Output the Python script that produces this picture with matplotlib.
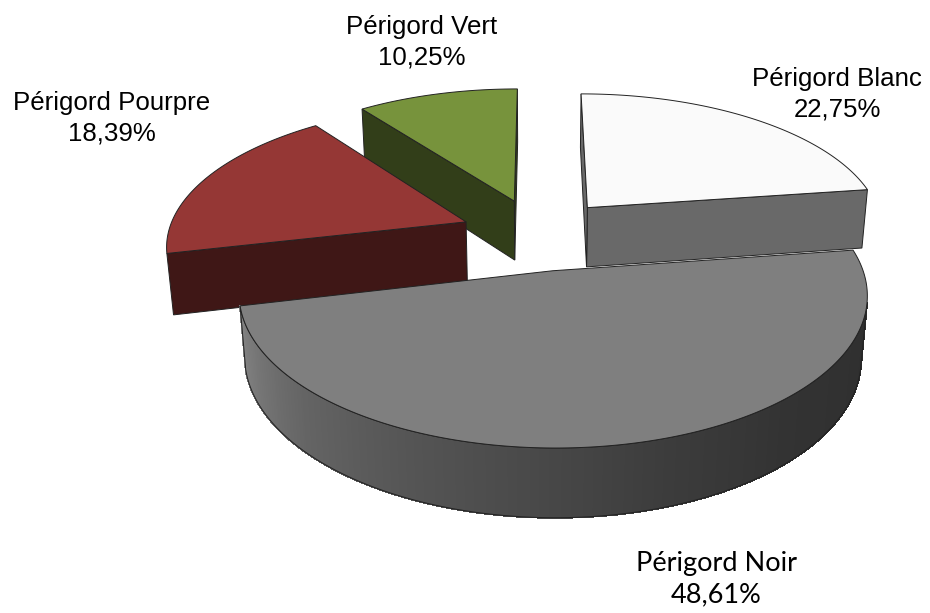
import numpy as np
import matplotlib
matplotlib.use('Agg')
from matplotlib import pyplot as plt
from matplotlib.patches import Polygon

names = ['Périgord Blanc', 'Périgord Noir', 'Périgord Pourpre', 'Périgord Vert']
values = [22.75, 48.61, 18.39, 10.25]
top_colors = ['#fafafa', '#7f7f7f', '#953735', '#77933c']

# label centres in pixels, and font per label (Noir label is in Calibri-like font)
label_pos = [(837, 94), (716, 579), (112, 118), (422, 42)]
label_font = ['Liberation Sans', 'Lato', 'Liberation Sans', 'Liberation Sans']
label_size = [18.6, 19.5, 18.6, 18.6]

# 3d view
elev = np.radians(27.3)
s, c = np.sin(elev), np.cos(elev)
fx, fy, D = 1760.0, 1778.0, 5.90
cx, cy = 538.0, 234.0
h = 0.23
explode = 0.26
cam = np.array([0.0, -D * c, D * s])

def proj(X, Y, Z):
    X = np.atleast_1d(np.asarray(X, float))
    Y = np.atleast_1d(np.asarray(Y, float))
    Z = np.atleast_1d(np.asarray(Z, float)) + 0 * X
    zc = D + Y * c - Z * s
    return np.column_stack([cx + fx * X / zc, cy - fy * (Y * s + Z * c) / zc])

def seen(normal, point):
    return np.dot(normal, cam - np.asarray(point)) > 0

def shade(col, k):
    rgb = np.array(matplotlib.colors.to_rgb(col)) * k
    return np.clip(rgb, 0, 1)

# side gradient of the big slice (angle in deg, brightness factor)
grad_ang = [-180, -167, -160, -136, -114, -90, -71, -48, 0, 20]
grad_fac = [1.08, 1.08, 0.99, 0.79, 0.67, 0.56, 0.47, 0.40, 0.36, 0.36]
gradient_side = [False, True, False, False]
side_k = 0.42
edge = '#222222'
lw = 0.7

fig = plt.figure(figsize=(9.3, 6.13), dpi=100)
ax = fig.add_axes([0, 0, 1, 1])
ax.set_xlim(0, 930)
ax.set_ylim(613, 0)
ax.axis('off')

fr = np.array(values) / sum(values)
th1 = 90 - 360 * np.cumsum(fr)      # clockwise from 12 o'clock
th2 = th1 + 360 * fr
mid = np.radians((th1 + th2) / 2)
ox = explode * np.cos(mid)
oy = explode * np.sin(mid)

for i in np.argsort(-oy):
    col = top_colors[i]
    n = int(abs(th2[i] - th1[i]) * 2) + 2
    th = np.radians(np.linspace(th1[i], th2[i], n))
    px, py = ox[i] + np.cos(th), oy[i] + np.sin(th)
    top = proj(px, py, 0)
    bot = proj(px, py, -h)
    a_top = proj(ox[i], oy[i], 0)[0]
    a_bot = proj(ox[i], oy[i], -h)[0]
    centre = [ox[i], oy[i], -h / 2]

    # cut faces
    t1, t2 = th[0], th[-1]
    faces = [((np.sin(t1), -np.cos(t1), 0), 0), ((-np.sin(t2), np.cos(t2), 0), -1)]
    for nrm, j in faces:
        if seen(nrm, centre):
            pts = [a_top, top[j], bot[j], a_bot]
            ax.add_patch(Polygon(pts, closed=True, fc=shade(col, side_k), ec=edge, lw=lw))

    # curved side
    tm = (th[:-1] + th[1:]) / 2
    vis = np.array([seen((np.cos(t), np.sin(t), 0), (ox[i] + np.cos(t), oy[i] + np.sin(t), -h / 2)) for t in tm])
    for j in np.where(vis)[0]:
        if gradient_side[i]:
            k = np.interp(np.degrees(tm[j]), grad_ang, grad_fac)
        else:
            k = side_k
        fc = shade(col, k)
        quad = [top[j], top[j + 1], bot[j + 1], bot[j]]
        ax.add_patch(Polygon(quad, closed=True, fc=fc, ec=fc, lw=0.8, antialiased=False))
    if vis.any():
        idx = np.where(vis)[0]
        j0, j1 = idx[0], idx[-1] + 1
        outline = np.vstack([top[j0:j1 + 1], bot[j0:j1 + 1][::-1]])
        ax.add_patch(Polygon(outline, closed=True, fill=False, ec=edge, lw=lw))

    # top face
    ax.add_patch(Polygon(np.vstack([a_top, top]), closed=True, fc=col, ec=edge, lw=lw))

for i in range(len(names)):
    txt = names[i] + '\n' + ('%.2f%%' % values[i]).replace('.', ',')
    ax.text(label_pos[i][0], label_pos[i][1], txt, ha='center', va='center',
            multialignment='center', fontsize=label_size[i], family=label_font[i],
            linespacing=1.35)

plt.savefig('out.png', dpi=100)
